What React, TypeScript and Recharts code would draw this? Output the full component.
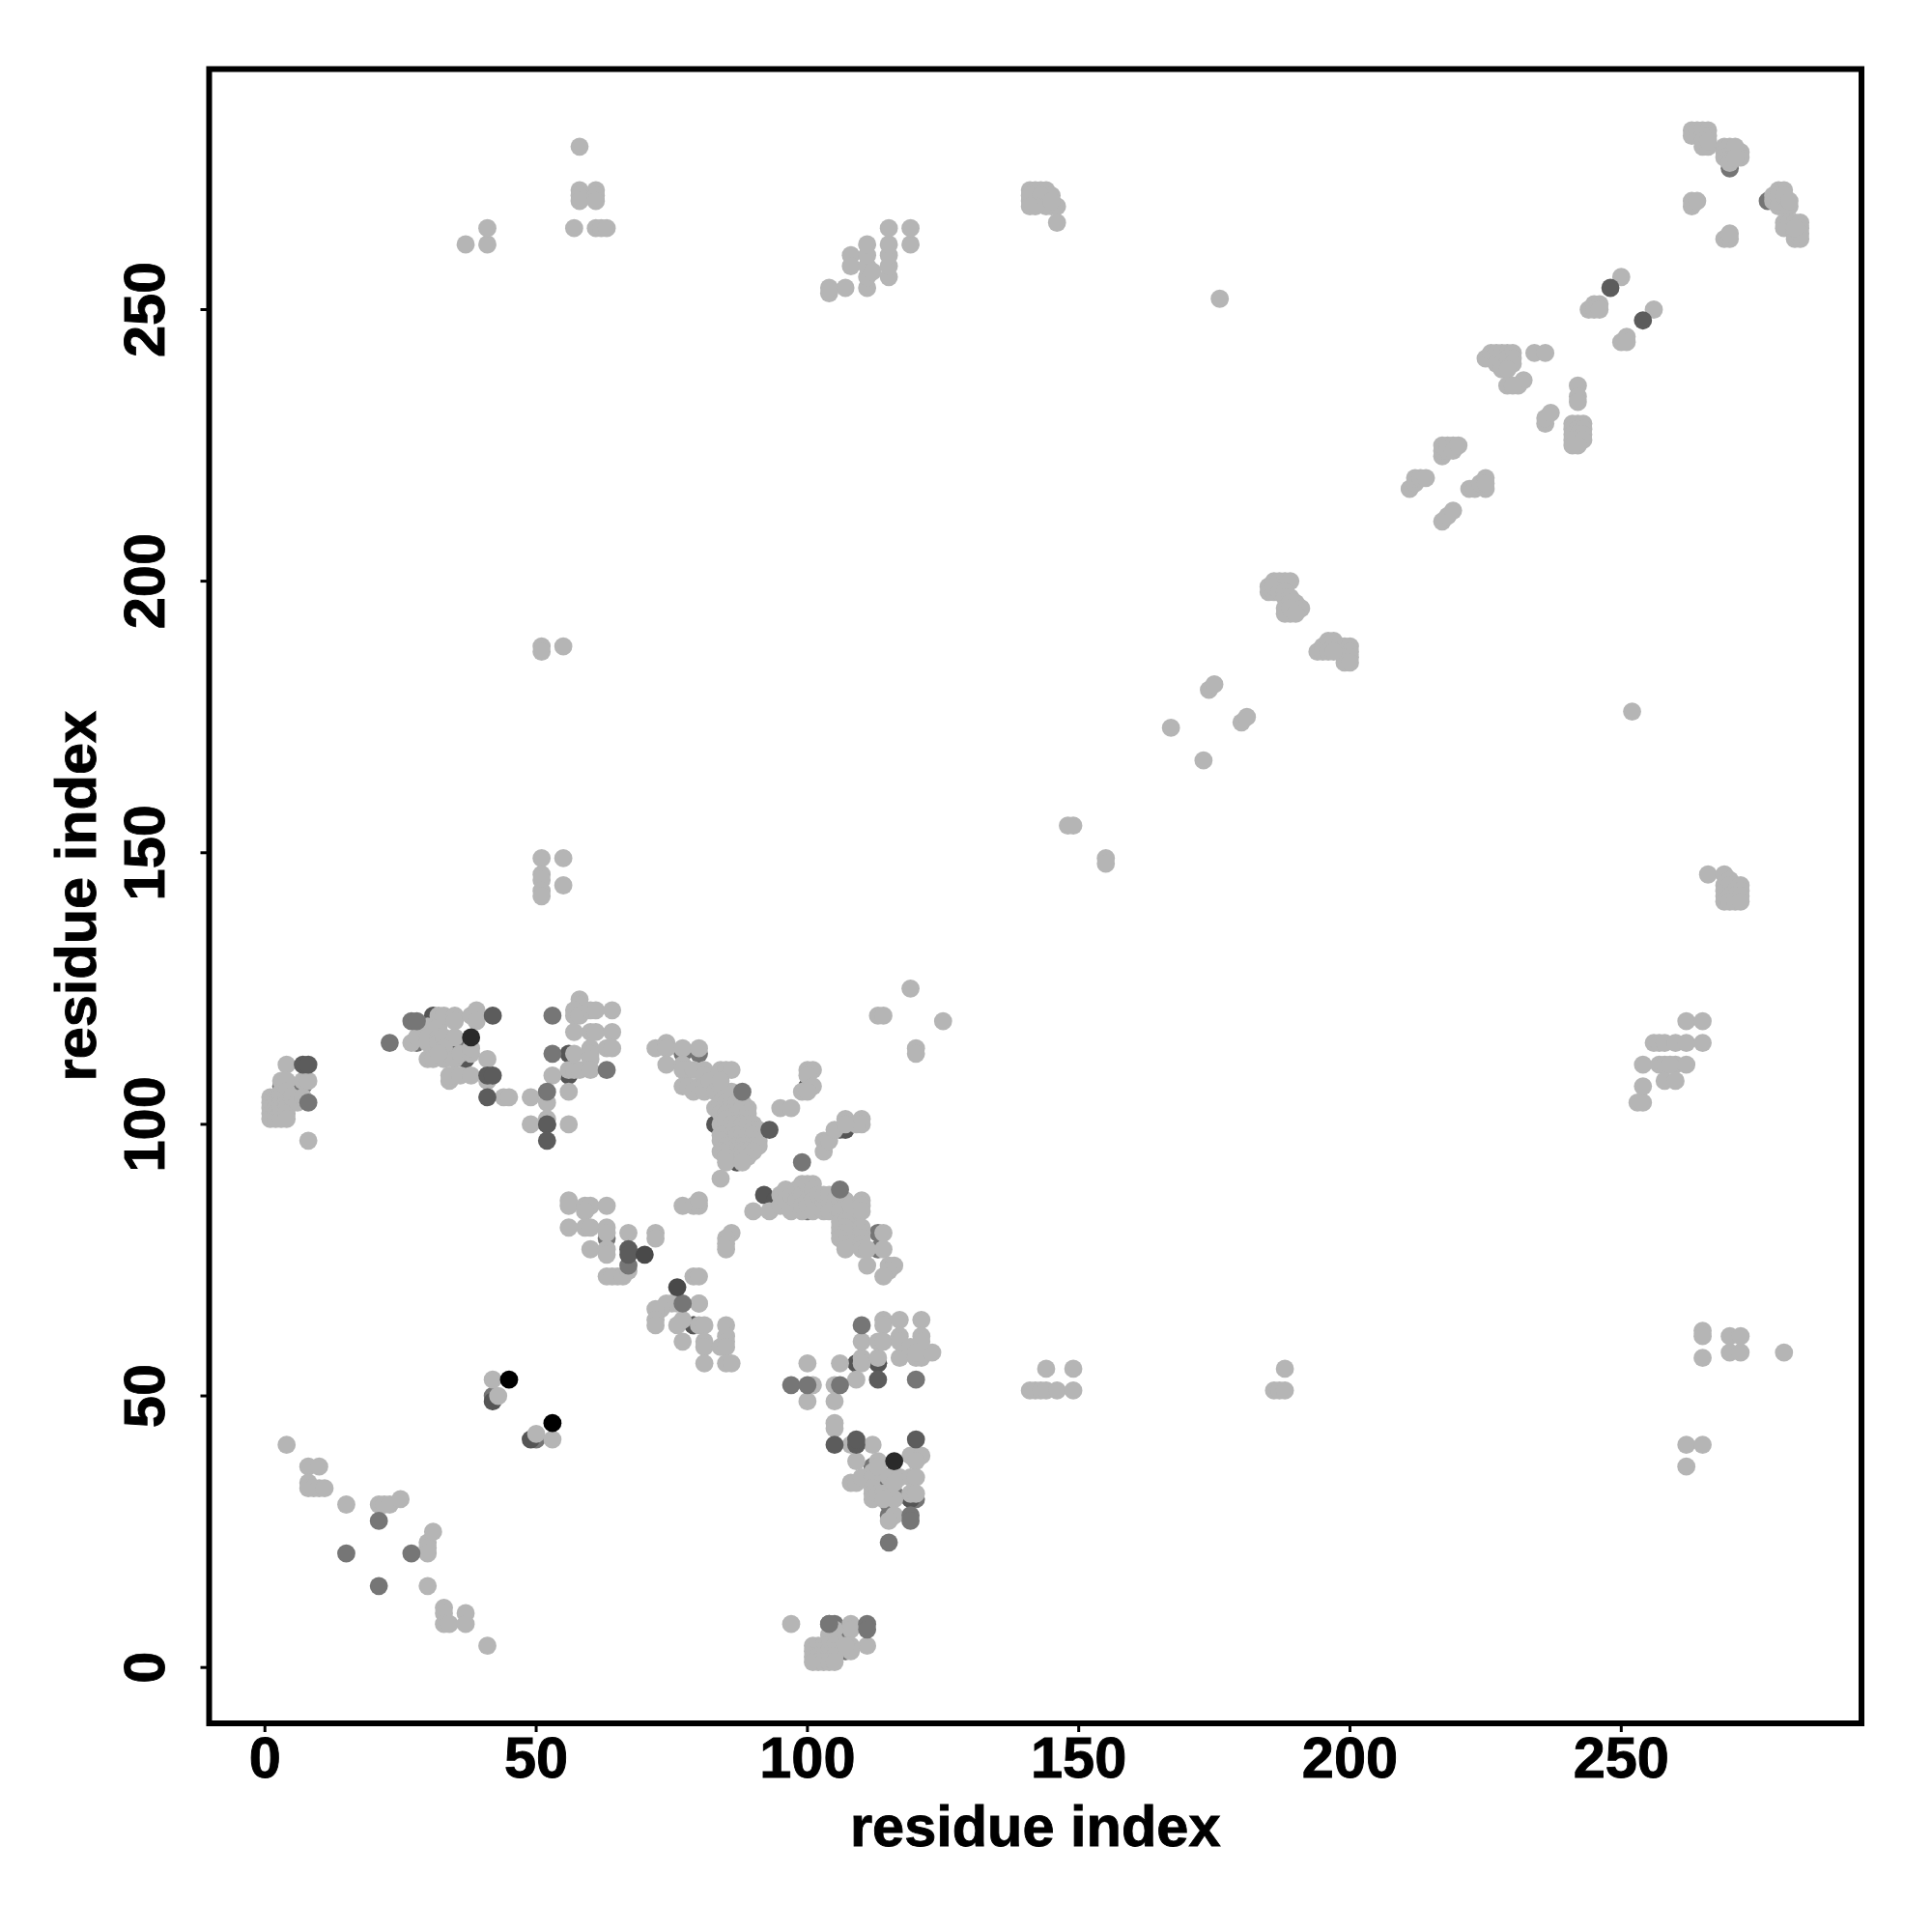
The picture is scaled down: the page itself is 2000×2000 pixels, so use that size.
import React from "react";
import { ScatterChart, Scatter, XAxis, YAxis, ReferenceArea } from "recharts";

type P = [number, number];

const xTicks = [0, 50, 100, 150, 200, 250];
const yTicks = [0, 50, 100, 150, 200, 250];
const axisTitle = "residue index";

const underMid: P[] = [[3,107],[7,107],[28,115],[35,115],[77,113],[80,113],[81,108],[63,79],[100,84],[113,80],[113,77],[109,85],[109,81],[107,7],[105,8],[104,8],[120,31],[116,32],[113,56],[114,35],[112,37],[42,50],[50,42],[106,99],[100,107],[102,85],[107,3],[115,30],[115,28],[79,63],[277,270],[270,276]];
const underDark: P[] = [[31,120],[31,119],[34,114],[37,112],[41,109],[56,113],[56,109],[52,100],[84,109],[83,100],[86,94],[87,93],[92,87],[94,86],[107,99],[100,107],[119,31],[42,49],[49,42],[109,56],[113,56],[115,35],[109,41],[79,63]];

const light: P[] = [
  [4,41],[8,37],[10,37],[8,34],[8,33],[9,33],[10,33],[11,33],[15,30],[21,30],[22,30],[23,30],[25,31],[30,23],[30,22],[30,21],[31,25],[30,15],[33,11],[33,10],[33,8],[34,8],[37,10],[37,8],[41,4],
  [42,53],[43,50],[50,43],[53,42],
  [4,111],[3,108],[4,108],[7,108],[8,108],[1,105],[1,104],[1,103],[1,102],[1,101],[2,105],[2,104],[2,103],[2,102],[2,101],[3,106],[3,105],[3,104],[3,103],[3,102],[3,101],[4,106],[4,105],[4,104],[4,103],[4,102],[4,101],[5,105],[6,104],[7,105],[8,97],
  [30,118],[32,120],[32,119],[32,118],[33,120],[35,120],[35,119],[38,120],[39,121],[39,119],[27,115],[28,116],[30,116],[30,115],[32,116],[32,115],[33,116],[35,116],[33,114],[30,112],[31,112],[33,112],[35,112],[32,113],[36,113],[38,113],[38,114],[41,112],[34,108],[35,109],[34,109],[36,109],[38,109],[41,108],[44,105],[45,105],
  [49,105],[52,104],[49,100],[52,101],[56,100],[53,109],[56,110],[57,110],[58,110],[56,106],[57,113],[58,123],[58,122],[57,121],[57,120],[58,120],[60,121],[61,121],[64,121],[57,117],[60,117],[61,117],[64,117],[60,114],[60,113],[60,112],[63,114],[64,114],[60,110],
  [56,86],[56,85],[59,85],[60,85],[59,84],[63,85],[56,81],[59,81],[60,81],[63,81],[63,80],[67,80],[72,80],[72,79],[60,77],[63,77],[63,76],[65,72],[63,72],[64,72],[66,72],[67,73],
  [72,114],[74,115],[74,114],[77,114],[80,114],[74,111],[77,111],[78,110],[77,110],[79,110],[81,110],[81,109],[84,110],[85,110],[86,110],[77,107],[78,107],[79,106],[80,107],[81,107],[81,106],[82,108],[83,106],[84,107],[85,106],[86,106],[84,108],
  [83,103],[84,104],[85,104],[86,104],[87,104],[88,104],[89,103],[84,102],[85,102],[86,102],[87,102],[88,103],[89,102],[89,101],[84,100],[85,100],[85,101],[86,100],[87,100],[88,100],[89,100],[90,100],[90,99],[91,99],[84,98],[85,98],[86,98],[87,98],[88,98],[89,98],[90,98],[91,97],[90,97],[84,97],[85,96],[86,96],[87,96],[88,96],[89,96],[90,96],[91,96],[84,95],[85,95],[86,95],[87,95],[88,95],[89,95],[90,95],[85,94],[88,94],[89,94],[85,93],[88,93],[84,90],
  [95,103],[97,103],[99,106],[100,110],[101,110],[100,109],[101,107],[100,106],[103,97],[103,95],[104,97],[107,101],[110,101],[110,100],[109,100],[105,99],[107,100],
  [90,84],[93,84],[95,85],[95,87],[96,88],[96,86],[97,84],[97,87],[98,88],[98,86],[99,84],[99,89],[99,87],[99,85],[100,89],[100,86],[100,85],[101,89],[101,88],[101,86],[101,84],[102,87],[103,86],[103,84],[103,87],[104,87],[104,85],[105,86],[104,84],[105,85],[106,86],[107,86],[107,85],[106,84],[108,85],[108,83],[110,86],[110,85],[110,84],[106,82],[107,82],[106,81],[107,81],[106,80],[107,80],[106,79],[110,81],[110,80],[110,79],[107,78],[107,77],[109,78],[110,78],[110,77],[111,77],[114,80],[114,77],[111,74],[115,74],[116,74],[115,73],[114,72],
  [119,125],[113,120],[114,120],[125,119],[120,114],[120,113],[77,85],[79,85],[80,85],[80,86],[86,80],[85,79],[85,78],[85,77],
  [79,72],[80,72],[80,67],[76,67],[75,67],[74,67],[73,66],[72,66],[72,64],[72,63],[76,63],[80,63],[81,63],[85,63],[77,60],[81,60],[81,59],[81,56],[85,61],[85,60],[84,59],[85,59],[85,56],[86,56],[80,67],[77,64],
  [100,56],[106,56],[110,57],[110,56],[113,57],[117,57],[120,57],[121,57],[123,58],[114,64],[114,63],[117,64],[121,64],[110,60],[113,60],[114,60],[117,61],[117,60],[121,61],[121,60],[119,59],[120,58],[109,53],[101,52],[100,49],[105,52],[105,49],[105,45],[105,44],[108,41],[112,41],[109,38],[113,38],[112,36],[119,39],[121,39],[120,38],
  [108,34],[109,34],[110,35],[112,35],[112,33],[113,37],[115,35],[117,35],[119,35],[120,35],[112,32],[112,31],[113,32],[114,32],[116,31],[119,32],[120,32],[116,34],[114,31],[116,28],[115,27],
  [97,8],[108,8],[108,7],[105,7],[111,4],[108,4],[108,3],[106,4],[105,5],[104,6],[101,4],[102,4],[103,4],[104,4],[105,4],[101,3],[102,3],[103,3],[104,3],[105,3],[101,2],[102,2],[103,2],[104,2],[105,2],[101,1],[102,1],[103,1],[104,1],[105,1],[107,4],
  [141,51],[142,51],[143,51],[144,51],[144,55],[146,51],[149,55],[149,51],[186,51],[187,51],[188,51],[188,55],
  [262,41],[265,41],[262,37],[265,62],[265,61],[265,57],[270,61],[272,61],[270,58],[272,58],[280,58],
  [253,104],[254,104],[254,107],[254,111],[257,111],[258,111],[260,111],[262,111],[259,111],[258,108],[260,108],[256,115],[257,115],[258,115],[260,115],[262,115],[265,115],[262,119],[265,119],
  [266,146],[269,146],[270,145],[271,144],[269,144],[269,143],[270,144],[272,144],[270,143],[271,143],[272,143],[269,142],[270,142],[271,142],[272,142],[269,141],[270,141],[271,141],[272,141],
  [148,155],[149,155],[155,149],[155,148],[167,173],[173,167],[174,180],[175,181],[180,174],[181,175],[176,252],[252,176],
  [185,199],[185,198],[186,198],[186,200],[187,200],[188,200],[189,200],[186,199],[188,199],[187,198],[188,198],[188,197],[189,197],[190,196],[191,195],[188,195],[189,194],[188,194],[190,195],[189,196],[189,195],[190,194],
  [194,187],[195,188],[196,189],[197,189],[195,187],[196,187],[197,188],[198,188],[199,188],[200,188],[198,187],[199,187],[200,187],[199,186],[200,186],[199,185],[200,185],[197,187],
  [211,217],[212,218],[212,219],[213,219],[214,219],[217,211],[218,212],[219,213],[217,223],[217,224],[217,225],[218,225],[219,225],[218,224],[219,224],[220,225],[222,217],[223,217],[225,217],[224,218],[225,219],[225,218],
  [225,241],[226,242],[227,242],[228,242],[229,242],[230,242],[227,241],[229,241],[230,241],[227,240],[228,240],[229,240],[230,240],[228,239],[229,239],[229,236],[231,236],[232,237],[230,236],[234,242],[236,242],
  [236,229],[236,230],[237,231],[241,229],[242,229],[243,229],[241,228],[242,228],[243,228],[241,227],[242,227],[243,227],[241,226],[243,226],[242,225],[241,225],[242,236],[242,234],[242,233],
  [244,250],[245,251],[246,251],[245,250],[246,250],[250,256],[256,250],[250,244],[251,245],[251,244],
  [263,283],[263,282],[264,283],[265,283],[266,283],[266,282],[265,282],[265,281],[265,280],[266,280],[266,281],[269,280],[270,280],[269,279],[269,278],[270,278],[270,277],[272,279],[272,278],[271,279],[271,280],[271,278],
  [263,269],[263,270],[264,270],[269,263],[270,263],[270,264],
  [278,271],[279,272],[280,272],[278,270],[279,269],[280,269],[280,270],[279,270],[279,271],[280,271],[281,269],[281,270],
  [280,266],[280,265],[281,266],[282,266],[283,266],[283,265],[282,264],[282,263],[283,263],[283,264],[282,265],
  [58,280],[58,272],[58,271],[58,270],[61,272],[61,271],[61,270],[57,265],[61,265],[62,265],[63,265],[37,262],[41,262],[41,265],
  [104,253],[104,254],[107,254],[108,260],[108,258],[111,254],[111,256],[111,258],[111,260],[111,262],[112,257],[115,256],[115,258],[115,260],[115,262],[115,265],[119,262],[119,265],
  [141,272],[142,272],[143,272],[144,272],[141,270],[142,270],[143,270],[144,271],[145,271],[141,271],[143,271],[145,269],[146,269],[144,269],[146,266],[142,269],[141,269],[145,270],
  [51,188],[51,187],[55,188],[51,149],[55,149],[51,146],[51,145],[51,143],[51,142],[55,144],
];

const topMid: P[] = [[8,104],[23,115],[27,119],[28,119],[53,120],[53,113],[52,106],[63,110],[88,106],[67,74],[77,67],[106,88],[99,93],[110,63],[106,52],[120,53],[97,52],[100,52],[119,28],[119,27],[115,23],[21,27],[15,21],[27,21],[21,15],[111,8],[111,7],[104,8]];
const topDark: P[] = [[7,111],[8,111],[42,120],[41,109],[42,109],[41,105],[52,100],[52,97],[93,99],[67,77],[67,76],[105,41],[109,41],[109,42],[113,53],[120,42],[248,254],[254,248]];
const topDarker: P[] = [[70,76],[76,70]];
const topNearBlack: P[] = [[38,116],[116,38]];
const topBlack: P[] = [[45,53],[53,45]];

const toRows = (pts: P[]) => pts.map(([x, y]) => ({ x, y }));
const dot = (fill: string) => (props: any) => <circle cx={props.cx} cy={props.cy} r={9.4} fill={fill} />;

const FONT = "'Liberation Sans', Arial, sans-serif";
const FS = 59.5;
const BOLDEN = { stroke: "#000", strokeWidth: 0.9 };

const XTick = (props: any) => (
  <text x={props.x} y={1840} textAnchor="middle" fontFamily={FONT} fontWeight="bold" fontSize={FS} fill="#000" {...BOLDEN}>
    {props.payload.value}
  </text>
);
const YTick = (props: any) => (
  <text x={170} y={props.y} transform={`rotate(-90 170 ${props.y})`} textAnchor="middle" fontFamily={FONT} fontWeight="bold" fontSize={FS} fill="#000" {...BOLDEN}>
    {props.payload.value}
  </text>
);

const series: [P[], string][] = [
  [underMid, "#757575"],
  [underDark, "#555555"],
  [light, "#b5b5b5"],
  [topMid, "#767676"],
  [topDark, "#5c5c5c"],
  [topDarker, "#494949"],
  [topNearBlack, "#2a2a2a"],
  [topBlack, "#000000"],
];

export default function App() {
  return (
    <div style={{ position: "absolute", left: 0, top: 0, width: 2000, height: 2000, background: "#fff" }}>
      <ScatterChart width={2000} height={2000} margin={{ left: 0, top: 71.5, right: 73, bottom: 0 }}>
        <XAxis
          type="number"
          dataKey="x"
          domain={[-10.28, 294.28]}
          ticks={xTicks}
          height={216}
          axisLine={false}
          tickLine={{ stroke: "#000", strokeWidth: 3 }}
          tickSize={9}
          tick={<XTick />}
          interval={0}
          allowDataOverflow
          label={{ value: axisTitle, content: () => (
            <text x={1071.7} y={1911} textAnchor="middle" fontFamily={FONT} fontWeight="bold" fontSize={FS} fill="#000" {...BOLDEN}>{axisTitle}</text>
          ) }}
        />
        <YAxis
          type="number"
          dataKey="y"
          domain={[-10.28, 294.28]}
          ticks={yTicks}
          width={216.5}
          axisLine={false}
          tickLine={{ stroke: "#000", strokeWidth: 3 }}
          tickSize={9}
          tick={<YTick />}
          interval={0}
          allowDataOverflow
          label={{ value: axisTitle, content: () => (
            <text x={99} y={927.7} transform="rotate(-90 99 927.7)" textAnchor="middle" fontFamily={FONT} fontWeight="bold" fontSize={FS} fill="#000" {...BOLDEN}>{axisTitle}</text>
          ) }}
        />
        {series.map(([pts, fill], i) => (
          <Scatter key={i} data={toRows(pts)} isAnimationActive={false} shape={dot(fill)} />
        ))}
        <ReferenceArea x1={-10.28} x2={294.28} y1={-10.28} y2={294.28} fill="none" stroke="#000" strokeWidth={6} ifOverflow="visible" />
      </ScatterChart>
    </div>
  );
}
